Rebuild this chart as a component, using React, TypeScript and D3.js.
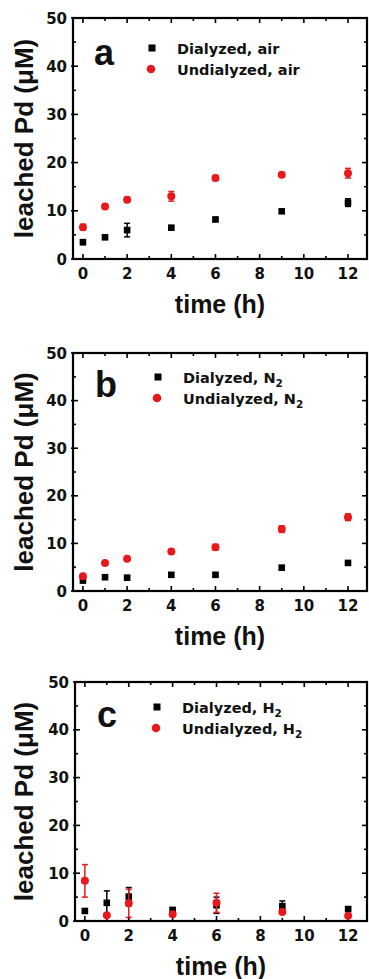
import React from "react";
import * as d3 from "d3";

const TIMES = [0, 1, 2, 4, 6, 9, 12];
const X_TICKS = [0, 2, 4, 6, 8, 10, 12];
const X_MINOR = [1, 3, 5, 7, 9, 11];
const Y_TICKS = [0, 10, 20, 30, 40, 50];
const Y_MINOR = [5, 15, 25, 35, 45];

const DIAL_A = [3.5, 4.5, 6.0, 6.5, 8.2, 9.9, 11.7];
const DIAL_A_ERR = [0.5, 0.4, 1.4, 0.4, 0.4, 0.4, 0.8];
const UNDIAL_A = [6.6, 10.9, 12.3, 13.0, 16.8, 17.5, 17.8];
const UNDIAL_A_ERR = [0.6, 0.4, 0.5, 1.0, 0.5, 0.4, 1.0];

const DIAL_B = [2.2, 2.9, 2.8, 3.4, 3.4, 4.9, 5.9];
const DIAL_B_ERR = [0.4, 0.3, 0.3, 0.4, 0.4, 0.4, 0.4];
const UNDIAL_B = [3.1, 5.9, 6.8, 8.3, 9.2, 13.0, 15.5];
const UNDIAL_B_ERR = [0.3, 0.4, 0.3, 0.4, 0.6, 0.7, 0.7];

const DIAL_C = [2.1, 3.8, 5.1, 2.3, 3.3, 3.1, 2.5];
const DIAL_C_ERR = [0.3, 2.5, 1.9, 0.5, 1.7, 1.1, 0.3];
const UNDIAL_C = [8.4, 1.2, 3.7, 1.4, 3.8, 1.9, 1.1];
const UNDIAL_C_ERR = [3.4, 0.3, 2.95, 0.4, 2.0, 0.4, 0.3];

const PANEL_LETTERS = ["a", "b", "c"];
const GAS_MAIN = ["air", "N", "H"];
const GAS_SUB = ["", "2", "2"];
const X_TITLE = "time (h)";
const Y_TITLE = "leached Pd (\u03BCM)";

const RED = "#e8191c";
const FONT = "DejaVu Sans, sans-serif";
const TITLE_FONT = "Liberation Sans, Arial, sans-serif";

type PanelProps = {
  top: number; bottom: number; left: number; right: number;
  letter: string; gas: string; sub: string;
  dial: number[]; dialErr: number[]; undial: number[]; undialErr: number[];
  legendX: number; legendY: number; letterX: number; letterY: number;
};

function Label({ x, y, main, gas, sub }: { x: number; y: number; main: string; gas: string; sub: string }) {
  return (
    <text x={x} y={y} fontFamily={FONT} fontWeight="bold" fontSize={14.5} fill="#111">
      {main + ", " + gas}
      {sub ? <tspan fontSize={10.5} dy={4}>{sub}</tspan> : null}
    </text>
  );
}

function Panel(p: PanelProps) {
  const x = d3.scaleLinear().domain([-0.45, 12.86]).range([p.left, p.right]);
  const y = d3.scaleLinear().domain([0, 50]).range([p.bottom, p.top]);
  const cap = 3;
  const errBars = (vals: number[], errs: number[], color: string) =>
    TIMES.map((t, i) => {
      const cx = x(t);
      const y1 = y(vals[i] + errs[i]);
      const y2 = y(vals[i] - errs[i]);
      return (
        <g key={i} stroke={color} strokeWidth={1.5}>
          <line x1={cx} x2={cx} y1={y1} y2={y2} />
          <line x1={cx - cap} x2={cx + cap} y1={y1} y2={y1} />
          <line x1={cx - cap} x2={cx + cap} y1={y2} y2={y2} />
        </g>
      );
    });
  return (
    <g>
      {X_TICKS.map((t) => (
        <g key={"xt" + t} stroke="#000" strokeWidth={1.6}>
          <line x1={x(t)} x2={x(t)} y1={p.bottom} y2={p.bottom - 5} />
          <line x1={x(t)} x2={x(t)} y1={p.top} y2={p.top + 5} />
        </g>
      ))}
      {X_MINOR.map((t) => (
        <g key={"xm" + t} stroke="#000" strokeWidth={1.6}>
          <line x1={x(t)} x2={x(t)} y1={p.bottom} y2={p.bottom - 3} />
          <line x1={x(t)} x2={x(t)} y1={p.top} y2={p.top + 3} />
        </g>
      ))}
      {Y_TICKS.map((v) => (
        <g key={"yt" + v} stroke="#000" strokeWidth={1.6}>
          <line x1={p.left - 2} x2={p.left + 5} y1={y(v)} y2={y(v)} />
          <line x1={p.right} x2={p.right - 5} y1={y(v)} y2={y(v)} />
        </g>
      ))}
      {Y_MINOR.map((v) => (
        <g key={"ym" + v} stroke="#000" strokeWidth={1.6}>
          <line x1={p.left} x2={p.left + 3} y1={y(v)} y2={y(v)} />
          <line x1={p.right} x2={p.right - 3} y1={y(v)} y2={y(v)} />
        </g>
      ))}
      <rect x={p.left} y={p.top} width={p.right - p.left} height={p.bottom - p.top}
        fill="none" stroke="#000" strokeWidth={2.2} />
      {X_TICKS.map((t) => (
        <text key={"xl" + t} x={x(t)} y={p.bottom + 20} textAnchor="middle"
          fontFamily={FONT} fontWeight="bold" fontSize={15} fill="#111">{t}</text>
      ))}
      {Y_TICKS.map((v) => (
        <text key={"yl" + v} x={p.left - 6} y={y(v) + 5.5} textAnchor="end"
          fontFamily={FONT} fontWeight="bold" fontSize={15} fill="#111">{v}</text>
      ))}
      <text x={(p.left + p.right) / 2} y={p.bottom + 54} textAnchor="middle"
        fontFamily={TITLE_FONT} fontWeight="bold" fontSize={25} fill="#111">{X_TITLE}</text>
      <text transform={`translate(33,${(p.top + p.bottom) / 2}) rotate(-90)`} textAnchor="middle"
        fontFamily={TITLE_FONT} fontWeight="bold" fontSize={26} fill="#111">{Y_TITLE}</text>
      <text x={p.letterX} y={p.letterY} fontFamily={TITLE_FONT}
        fontWeight="bold" fontSize={36} fill="#111">{p.letter}</text>
      <rect x={p.legendX - 3.5} y={p.legendY - 3.5} width={7} height={7} fill="#000" />
      <Label x={p.legendX + 25} y={p.legendY + 6} main="Dialyzed" gas={p.gas} sub={p.sub} />
      <circle cx={p.legendX - 1} cy={p.legendY + 21} r={4.3} fill={RED} />
      <Label x={p.legendX + 25} y={p.legendY + 27} main="Undialyzed" gas={p.gas} sub={p.sub} />
      {errBars(p.dial, p.dialErr, "#000")}
      {TIMES.map((t, i) => (
        <rect key={"d" + i} x={x(t) - 3.3} y={y(p.dial[i]) - 3.3} width={6.6} height={6.6} fill="#000" />
      ))}
      {errBars(p.undial, p.undialErr, RED)}
      {TIMES.map((t, i) => (
        <circle key={"u" + i} cx={x(t)} cy={y(p.undial[i])} r={4} fill={RED} />
      ))}
    </g>
  );
}

export default function App() {
  const panels = [
    { top: 18, bottom: 259, left: 73, right: 367, dial: DIAL_A, dialErr: DIAL_A_ERR, undial: UNDIAL_A, undialErr: UNDIAL_A_ERR, legendX: 152, legendY: 48, letterX: 94, letterY: 65 },
    { top: 353, bottom: 591, left: 73, right: 367, dial: DIAL_B, dialErr: DIAL_B_ERR, undial: UNDIAL_B, undialErr: UNDIAL_B_ERR, legendX: 158, legendY: 377, letterX: 95, letterY: 397 },
    { top: 682, bottom: 921, left: 75, right: 367, dial: DIAL_C, dialErr: DIAL_C_ERR, undial: UNDIAL_C, undialErr: UNDIAL_C_ERR, legendX: 157, legendY: 707, letterX: 97, letterY: 727 },
  ];
  return (
    <svg width={369} height={979} style={{ position: "absolute", left: 0, top: 0, background: "#fff" }}>
      {panels.map((p, i) => (
        <Panel key={i} {...p} letter={PANEL_LETTERS[i]} gas={GAS_MAIN[i]} sub={GAS_SUB[i]} />
      ))}
    </svg>
  );
}
